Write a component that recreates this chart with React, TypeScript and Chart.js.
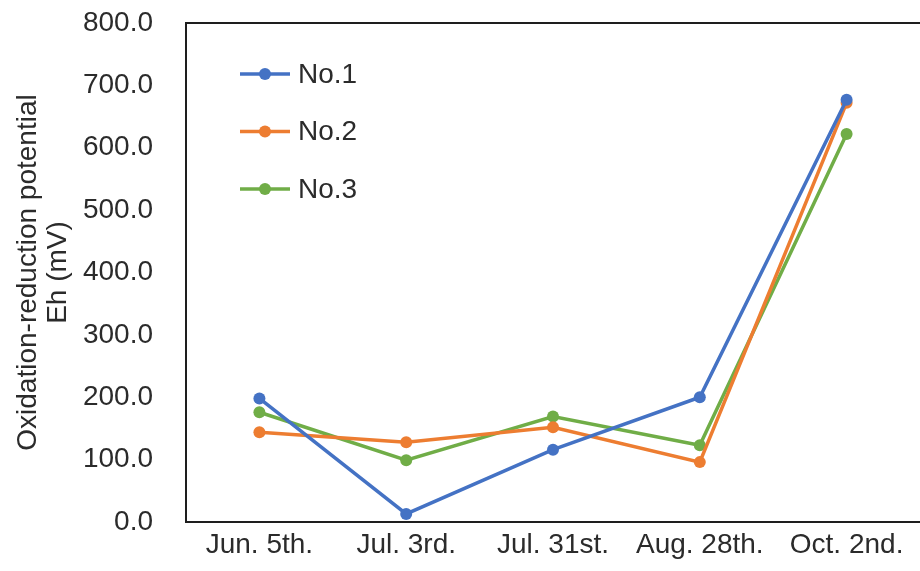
import React, { useEffect, useRef } from "react";
import { Chart, registerables } from "chart.js";

Chart.register(...registerables);

// Sampling dates along the x axis
const samplingDates = ["Jun. 5th.", "Jul. 3rd.", "Jul. 31st.", "Aug. 28th.", "Oct. 2nd."];

// Eh readings (mV) per plot
const no1Eh = [198, 13, 116, 200, 677];
const no2Eh = [144, 128, 152, 96, 672];
const no3Eh = [176, 99, 169, 123, 622];

const seriesNames = ["No.1", "No.2", "No.3"];
const seriesColors = ["#4472C4", "#ED7D31", "#70AD47"];
const yAxisTitle = ["Oxidation-reduction potential", "Eh (mV)"];

const FONT = "'Liberation Sans', Arial, Helvetica, sans-serif";
const TEXT = "#2b2b2b";
const AXIS = "#1e1e1e";

// Closes the plot frame along the top edge
const topFrame = {
  id: "topFrame",
  beforeDatasetsDraw(chart: any) {
    const { ctx, chartArea } = chart;
    ctx.save();
    ctx.strokeStyle = AXIS;
    ctx.lineWidth = 2;
    ctx.beginPath();
    ctx.moveTo(chartArea.left - 1, chartArea.top);
    ctx.lineTo(chartArea.right + 10, chartArea.top);
    ctx.stroke();
    ctx.restore();
  },
};

// Legend drawn inside the plot: a short line with a marker, then the name
const lineLegend = {
  id: "lineLegend",
  afterDatasetsDraw(chart: any) {
    const { ctx, chartArea } = chart;
    chart.data.datasets.forEach((ds: any, i: number) => {
      const y = chartArea.top + 51 + i * 57.5;
      const x0 = chartArea.left + 54;
      ctx.save();
      ctx.strokeStyle = ds.borderColor;
      ctx.fillStyle = ds.borderColor;
      ctx.lineWidth = 3.5;
      ctx.beginPath();
      ctx.moveTo(x0, y);
      ctx.lineTo(x0 + 50, y);
      ctx.stroke();
      ctx.beginPath();
      ctx.arc(x0 + 25, y, 6, 0, Math.PI * 2);
      ctx.fill();
      ctx.fillStyle = TEXT;
      ctx.font = `28px ${FONT}`;
      ctx.textAlign = "left";
      ctx.textBaseline = "middle";
      ctx.fillText(ds.label, x0 + 58, y + 1);
      ctx.restore();
    });
  },
};

export default function App() {
  const canvasRef = useRef<HTMLCanvasElement | null>(null);

  useEffect(() => {
    if (!canvasRef.current) return;
    const series = [no1Eh, no2Eh, no3Eh];
    const chart = new Chart(canvasRef.current, {
      type: "line",
      data: {
        labels: samplingDates,
        datasets: series.map((values, i) => ({
          label: seriesNames[i],
          data: values,
          borderColor: seriesColors[i],
          backgroundColor: seriesColors[i],
          pointBackgroundColor: seriesColors[i],
          pointBorderColor: seriesColors[i],
          borderWidth: 3.5,
          pointRadius: 6,
          pointBorderWidth: 0,
          tension: 0,
          fill: false,
        })),
      },
      options: {
        responsive: false,
        animation: false,
        layout: { padding: { top: 23, left: 0, right: 2, bottom: 0 } },
        plugins: {
          legend: { display: false },
          tooltip: { enabled: false },
        },
        scales: {
          x: {
            offset: true,
            grid: { display: false, drawTicks: false },
            border: { display: true, color: AXIS, width: 2 },
            ticks: {
              color: TEXT,
              padding: 6,
              maxRotation: 0,
              autoSkip: false,
              font: { family: FONT, size: 28 },
            },
            afterFit: (scale: any) => {
              scale.height = 49;
            },
          },
          y: {
            min: 0,
            max: 800,
            grid: { display: false, drawTicks: false },
            border: { display: true, color: AXIS, width: 2 },
            ticks: {
              stepSize: 100,
              color: TEXT,
              padding: 33,
              font: { family: FONT, size: 28 },
              callback: (v: any) => Number(v).toFixed(1),
            },
            title: {
              display: true,
              text: yAxisTitle,
              color: TEXT,
              padding: { top: 13, bottom: 0 },
              font: { family: FONT, size: 28, lineHeight: 1.07 },
            },
            afterFit: (scale: any) => {
              scale.width = 186;
              scale.paddingTop = 0;
              scale.paddingBottom = 0;
            },
          },
        },
      },
      plugins: [topFrame, lineLegend],
    });
    return () => chart.destroy();
  }, []);

  return (
    <div
      style={{
        position: "fixed",
        left: 0,
        top: 0,
        width: 920,
        height: 571,
        overflow: "hidden",
        background: "#ffffff",
      }}
    >
      <canvas
        ref={canvasRef}
        width={926}
        height={571}
        style={{ display: "block", width: 926, height: 571 }}
      />
    </div>
  );
}
